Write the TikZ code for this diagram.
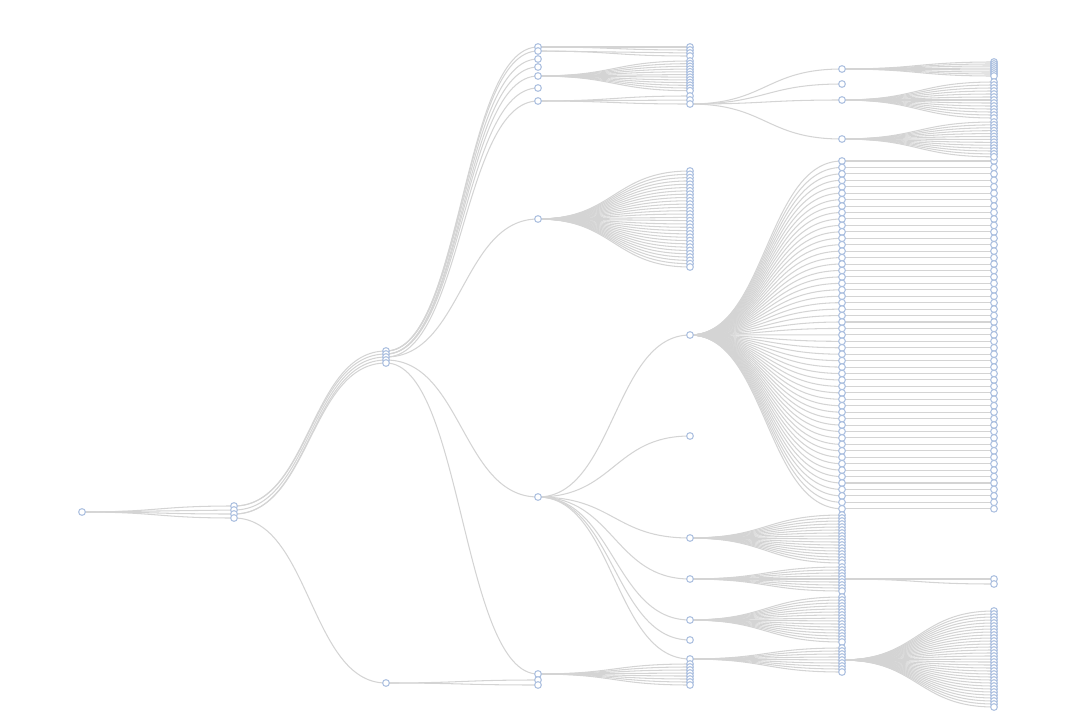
\documentclass[tikz,border=0pt]{standalone}
\usetikzlibrary{calc,backgrounds}
\definecolor{treeLink}{RGB}{212,212,212}
\definecolor{treeNode}{RGB}{172,192,224}
\newcommand{\lnk}[2]{\draw[link] let \p1=(#1), \p2=(#2) in (\p1) .. controls ({0.5*\x1+0.5*\x2},\y1) and ({0.5*\x1+0.5*\x2},\y2) .. (\p2);}

\begin{document}
\begin{tikzpicture}[
  x=0.02cm, y=-0.02cm,
  dot/.style={circle, draw=treeNode, fill=white, line width=0.6pt, inner sep=0pt,
              minimum size=0.135cm},
  link/.style={draw=treeLink, line width=0.6pt}
]
\useasboundingbox (0,0) rectangle (1080,727);
\node[dot] (r) at (82,512) {};
\foreach \i/\y in {1/506,2/510,3/514,4/518}
  \node[dot] (a\i) at (234,\y) {};
\foreach \i/\y in {1/351,2/354,3/357,4/360,5/363,6/683}
  \node[dot] (b\i) at (386,\y) {};
\foreach \i/\y in {1/47,2/51,3/59,4/67,5/76,6/88,7/101,8/219,9/497,10/674,11/680,12/685}
  \node[dot] (c\i) at (538,\y) {};
\foreach \i/\y in {1/47,2/50}
  \node[dot] (c1-\i) at (690,\y) {};
\foreach \i/\y in {1/53,2/56}
  \node[dot] (c2-\i) at (690,\y) {};
\foreach \i in {1,...,12}
  \node[dot] (c5-\i) at (690,{61+2.7*(\i-1)}) {};
\foreach \i/\y in {1/96,2/100,3/104}
  \node[dot] (c7-\i) at (690,\y) {};
\foreach \i in {1,...,30}
  \node[dot] (c8-\i) at (690,{171+3.31*(\i-1)}) {};
\foreach \i/\y in {1/335,2/436,3/538,4/579,5/620,6/640,7/659}
  \node[dot] (c9-\i) at (690,\y) {};
\foreach \i in {1,...,8}
  \node[dot] (c10-\i) at (690,{664+3*(\i-1)}) {};
\foreach \i/\y in {1/69,2/84,3/100,4/139}
  \node[dot] (e\i) at (842,\y) {};
\foreach \i in {1,...,55} {
  \node[dot] (g\i) at (842,{161+6.44*(\i-1)}) {};
  \node[dot] (gg\i) at (994,{161+6.44*(\i-1)}) {};
}
\foreach \i in {1,...,17}
  \node[dot] (h\i) at (842,{515+3*(\i-1)}) {};
\foreach \i in {1,...,9}
  \node[dot] (k\i) at (842,{567+3*(\i-1)}) {};
\foreach \i in {1,...,16}
  \node[dot] (l\i) at (842,{597+3*(\i-1)}) {};
\foreach \i in {1,...,9}
  \node[dot] (n\i) at (842,{648+3*(\i-1)}) {};
\foreach \i in {1,...,8}
  \node[dot] (e1-\i) at (994,{62+2*(\i-1)}) {};
\foreach \i in {1,...,13}
  \node[dot] (e3-\i) at (994,{82+3*(\i-1)}) {};
\foreach \i in {1,...,13}
  \node[dot] (e4-\i) at (994,{122+2.9*(\i-1)}) {};
\foreach \i/\y in {1/579,2/584}
  \node[dot] (kk\i) at (994,\y) {};
\foreach \i in {1,...,33}
  \node[dot] (nn\i) at (994,{611+3*(\i-1)}) {};
\begin{pgfonlayer}{background}
  \foreach \t in {a1,a2,a3,a4} {\lnk{r}{\t}}
  \foreach \s/\t in {a1/b1,a1/b2,a2/b3,a3/b4,a3/b5,a4/b6} {\lnk{\s}{\t}}
  \foreach \s/\t in {b1/c1,b1/c2,b1/c3,b2/c4,b2/c5,b2/c6,b3/c7,b3/c8,b4/c9,b5/c10,b6/c11,b6/c12}
    {\lnk{\s}{\t}}
  \foreach \t in {c1-1,c1-2} {\lnk{c1}{\t}}
  \foreach \t in {c2-1,c2-2} {\lnk{c2}{\t}}
  \foreach \i in {1,...,12} {\lnk{c5}{c5-\i}}
  \foreach \i in {1,...,3} {\lnk{c7}{c7-\i}}
  \foreach \i in {1,...,30} {\lnk{c8}{c8-\i}}
  \foreach \i in {1,...,7} {\lnk{c9}{c9-\i}}
  \foreach \i in {1,...,8} {\lnk{c10}{c10-\i}}
  \foreach \i in {1,...,4} {\lnk{c7-3}{e\i}}
  \foreach \i in {1,...,55} {\lnk{c9-1}{g\i} \lnk{g\i}{gg\i}}
  \foreach \i in {1,...,17} {\lnk{c9-3}{h\i}}
  \foreach \i in {1,...,9} {\lnk{c9-4}{k\i}}
  \foreach \i in {1,2} {\lnk{k5}{kk\i}}
  \foreach \i in {1,...,16} {\lnk{c9-5}{l\i}}
  \foreach \i in {1,...,9} {\lnk{c9-7}{n\i}}
  \foreach \i in {1,...,33} {\lnk{n5}{nn\i}}
  \foreach \i in {1,...,8} {\lnk{e1}{e1-\i}}
  \foreach \i in {1,...,13} {\lnk{e3}{e3-\i}}
  \foreach \i in {1,...,13} {\lnk{e4}{e4-\i}}
\end{pgfonlayer}
\end{tikzpicture}
\end{document}
